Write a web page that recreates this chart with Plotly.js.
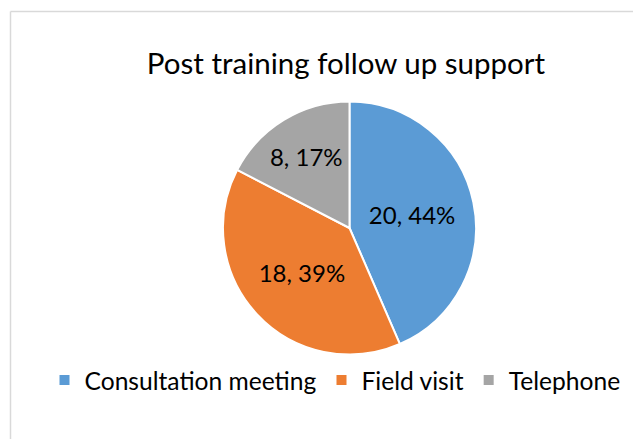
<!DOCTYPE html>
<html>
<head>
<meta charset="utf-8">
<script src="https://cdn.plot.ly/plotly-3.0.1.min.js"></script>
<style>
html,body{margin:0;padding:0;background:#fff;}
#chart{width:633px;height:439px;}
</style>
</head>
<body>
<div id="chart"></div>
<script>
const categories = ["Consultation meeting", "Field visit", "Telephone"];
const values = [20, 18, 8];
const percentLabels = ["44%", "39%", "17%"];
const colors = ["#5B9BD5", "#ED7D31", "#A5A5A5"];
const chartTitle = "Post training follow up support";

const W = 633, H = 439;
const FONT = "Lato, 'Open Sans', sans-serif";

const cx = 349.5, cy = 228, r = 126.5;

const trace = {
  type: "pie",
  labels: categories,
  values: values,
  customdata: percentLabels,
  texttemplate: "%{value}, %{customdata}",
  textinfo: "text",
  textposition: "inside",
  insidetextorientation: "horizontal",
  textfont: {family: FONT, size: 24, color: "#000000"},
  marker: {colors: colors, line: {color: "#ffffff", width: 2}},
  sort: false,
  direction: "clockwise",
  rotation: 0,
  hoverinfo: "none",
  domain: {x: [(cx - r) / W, (cx + r) / W], y: [1 - (cy + r) / H, 1 - (cy - r) / H]}
};

const layout = {
  width: W, height: H,
  margin: {l: 0, r: 0, t: 0, b: 0},
  paper_bgcolor: "#ffffff",
  font: {family: FONT, color: "#000000"},
  title: {
    text: chartTitle,
    font: {family: FONT, size: 29.5, color: "#000000"},
    x: 346 / W, xanchor: "center", xref: "paper",
    y: 1 - 64 / H, yanchor: "middle", yref: "paper"
  },
  showlegend: true,
  legend: {
    orientation: "h",
    x: 335 / W, xanchor: "center",
    y: 1 - 380 / H, yanchor: "middle",
    font: {family: FONT, size: 24.6, color: "#000000"},
    traceorder: "normal"
  },
  shapes: [
    {type: "line", xref: "paper", yref: "paper", x0: 10.5 / W, x1: 1, y0: 1 - 11.5 / H, y1: 1 - 11.5 / H, line: {color: "#D9D9D9", width: 1.5}},
    {type: "line", xref: "paper", yref: "paper", x0: 10.5 / W, x1: 10.5 / W, y0: 1 - 11.5 / H, y1: 0, line: {color: "#D9D9D9", width: 1.5}}
  ]
};

Plotly.newPlot("chart", [trace], layout, {displayModeBar: false, staticPlot: true});
</script>
</body>
</html>
